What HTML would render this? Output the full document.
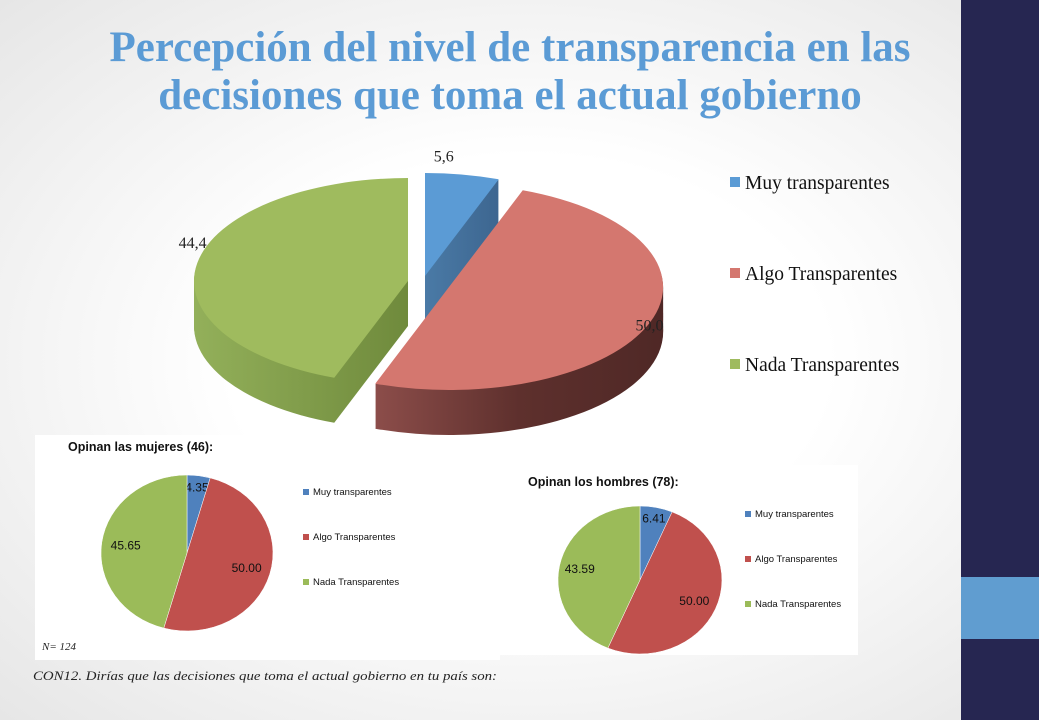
<!DOCTYPE html>
<html><head><meta charset="utf-8"><style>
body{margin:0;width:1039px;height:720px;overflow:hidden;font-family:"Liberation Sans",sans-serif;}
#bg{position:absolute;left:0;top:0;width:961px;height:720px;background:radial-gradient(ellipse at 55% 50%,#ffffff 40%,#e6e6e6 100%);}
#band{position:absolute;left:961px;top:0;width:78px;height:720px;background:#262651;}
#band-blue{position:absolute;left:961px;top:577px;width:78px;height:62px;background:#609dd0;}
h1{position:absolute;left:20px;top:24px;width:980px;margin:0;text-align:center;font-family:"Liberation Serif",serif;font-weight:bold;font-size:43px;line-height:48px;color:#5b9bd5;}
</style></head><body>
<div id="bg"></div>
<div id="band"></div>
<div id="band-blue"></div>
<h1>Percepción del nivel de transparencia en las<br>decisiones que toma el actual gobierno</h1>
<svg id="chart" width="961" height="720" style="position:absolute;left:0;top:0">
<defs>
<linearGradient id="gG" x1="0" x2="1"><stop offset="0" stop-color="#93b05a"/><stop offset="1" stop-color="#6f8a3c"/></linearGradient>
<linearGradient id="gR" x1="0" x2="1"><stop offset="0" stop-color="#8c4d4a"/><stop offset="0.5" stop-color="#5e302d"/><stop offset="1" stop-color="#4f2826"/></linearGradient>
<linearGradient id="gB" x1="0" x2="1"><stop offset="0" stop-color="#4a7aa6"/><stop offset="1" stop-color="#3d6690"/></linearGradient>
</defs>
<rect x="35" y="435" width="465" height="225" fill="#fff"/>
<rect x="500" y="465" width="358" height="190" fill="#fff"/>
<g id="main"></g><g id="women"></g><g id="men"></g>
</svg>
<script>
const categories=["Muy transparentes","Algo Transparentes","Nada Transparentes"];
const totalValues=[5.6,50.0,44.4];
const totalLabels=["5,6","50,0","44,4"];
const womenValues=[4.35,50.00,45.65];
const menValues=[6.41,50.00,43.59];
const NS="http://www.w3.org/2000/svg";
function mk(tag,attrs,parent){const e=document.createElementNS(NS,tag);for(const k in attrs)e.setAttribute(k,attrs[k]);parent.appendChild(e);return e;}
function pt(cx,cy,rx,ry,a){return [cx+rx*Math.sin(a),cy-ry*Math.cos(a)];}
function wedge(cx,cy,rx,ry,a0,a1){const p0=pt(cx,cy,rx,ry,a0),p1=pt(cx,cy,rx,ry,a1);const large=(a1-a0)>Math.PI?1:0;
 return `M${cx},${cy}L${p0[0]},${p0[1]}A${rx},${ry} 0 ${large} 1 ${p1[0]},${p1[1]}Z`;}
const main=document.getElementById('main');
const total=totalValues.reduce((a,b)=>a+b,0);
const rx=214,ry=103,depth=45;
const centers=[[425,276],[449,287],[408,281]];
const labelOff=[[0,-70],[100,20],[-110,-30]];
const topCol=["#5b9bd5","#d4776f","#9fbb5e"],sideCol=["url(#gB)","url(#gR)","url(#gG)"];
let acc=0;const slices=[];
totalValues.forEach((v,i)=>{const a0=acc/total*2*Math.PI;acc+=v;const a1=acc/total*2*Math.PI;const m=(a0+a1)/2;
 slices.push({i,a0,a1,m,cx:centers[i][0],cy:centers[i][1]});});
[0,2,1].forEach(i=>{const s=slices[i];
 const side=mk('g',{},main);
 
 
 for(let d=depth;d>0;d-=1){mk('path',{d:wedge(s.cx,s.cy+d,rx,ry,s.a0,s.a1),fill:sideCol[i]},side);}
 const t=mk('path',{d:wedge(s.cx,s.cy,rx,ry,s.a0,s.a1),fill:topCol[i]},main);
 
 
 const lp=pt(s.cx,s.cy,rx*0.5,ry*0.5,s.m);
 const tx=mk('text',{x:lp[0]+labelOff[i][0],y:lp[1]+labelOff[i][1]+6,'text-anchor':'middle','font-family':'Liberation Serif, serif','font-size':16,fill:'#222'},main);
 tx.textContent=totalLabels[i];
 
 
});
const legCols=["#5b9bd5","#d4776f","#9fbb5e"];
categories.forEach((c,i)=>{const y=183+i*91;
 const r=mk('rect',{x:730,y:y-6,width:10,height:10,fill:legCols[i]},main);
 
 
 const t=mk('text',{x:745,y:y+6,'font-family':'Liberation Serif, serif','font-size':19.5,fill:'#111'},main);
 t.textContent=c;
 
 });
const smallCols=["#4f81bd","#c0504d","#9bbb59"];
function smallPie(gid,vals,cx,cy,prx,pry,title,tx,ty,lx,ly,labelPos){const g=document.getElementById(gid);
 const tt=mk('text',{x:tx,y:ty,'font-size':12.5,'font-weight':'bold',fill:'#111'},g);tt.textContent=title;
 
 
 const tot=vals.reduce((a,b)=>a+b,0);let a=0;
 vals.forEach((v,i)=>{const a0=a/tot*2*Math.PI;a+=v;const a1=a/tot*2*Math.PI;
  const p=mk('path',{d:wedge(cx,cy,prx,pry,a0,a1),fill:smallCols[i],stroke:'#fff','stroke-width':0.5},g);
  
  
  const m=(a0+a1)/2;const f=labelPos[i];const q=pt(cx,cy,prx*f,pry*f,m);
  const l=mk('text',{x:q[0],y:q[1]+4,'text-anchor':'middle','font-size':12,fill:'#111'},g);l.textContent=v.toFixed(2);
  
  });
 categories.forEach((c,i)=>{const y=ly+i*45;
  const r=mk('rect',{x:lx,y:y-6,width:6,height:6,fill:smallCols[i]},g);
  
  
  const t=mk('text',{x:lx+10,y:y,'font-size':9.5,fill:'#111'},g);t.textContent=c;
  
  });}
smallPie('women',womenValues,187,553,86,78,'Opinan las mujeres (46):',68,451,303,495,[0.85,0.72,0.72]);
smallPie('men',menValues,640,580,82,74,'Opinan los hombres (78):',528,486,745,517,[0.85,0.72,0.75]);
const svg=document.getElementById('chart');
const n=mk('text',{x:42,y:650,'font-family':'Liberation Serif, serif','font-size':11,'font-style':'italic',fill:'#222'},svg);n.textContent='N= 124';


const q=mk('text',{x:33,y:680,'font-family':'Liberation Serif, serif','font-size':13,'font-style':'italic',fill:'#222',textLength:464,lengthAdjust:'spacingAndGlyphs'},svg);q.textContent='CON12. Dirías que las decisiones que toma el actual gobierno en tu país son:';


</script>
</body></html>
